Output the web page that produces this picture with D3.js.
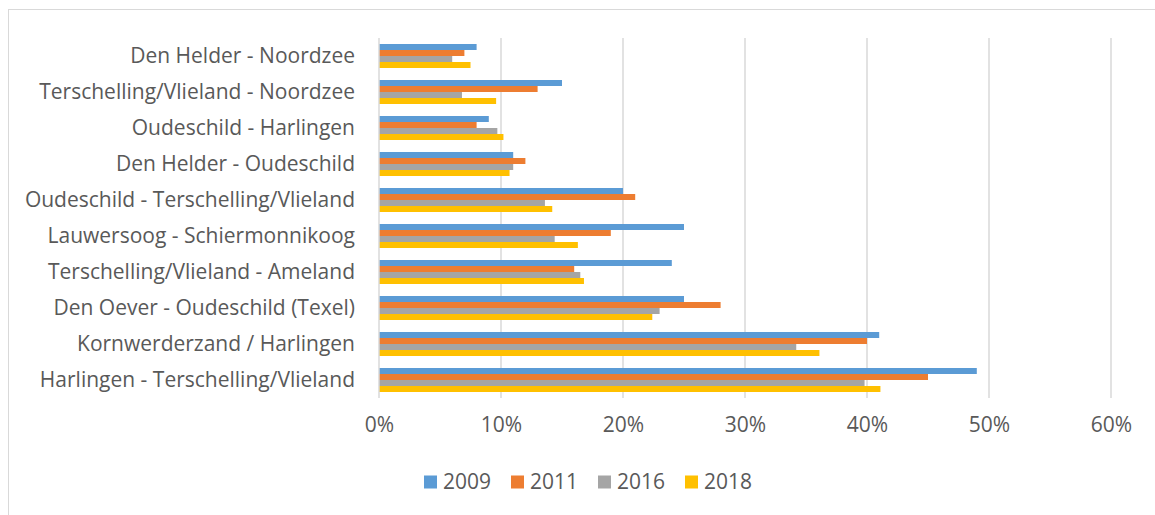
<!DOCTYPE html>
<html>
<head>
<meta charset="utf-8">
<script src="https://cdn.jsdelivr.net/npm/d3@7"></script>
<style>
  body { margin: 0; background: #fff; }
  text { font-family: "Open Sans", sans-serif; fill: #595959; }
</style>
</head>
<body>
<svg id="chart"></svg>
<script>
// routes, top to bottom as in the picture
const routes = [
  "Den Helder - Noordzee",
  "Terschelling/Vlieland - Noordzee",
  "Oudeschild - Harlingen",
  "Den Helder - Oudeschild",
  "Oudeschild - Terschelling/Vlieland",
  "Lauwersoog - Schiermonnikoog",
  "Terschelling/Vlieland - Ameland",
  "Den Oever - Oudeschild (Texel)",
  "Kornwerderzand / Harlingen",
  "Harlingen - Terschelling/Vlieland"
];
const years = ["2009", "2011", "2016", "2018"];
const colors = ["#5b9bd5", "#ed7d31", "#a5a5a5", "#ffc000"];

// shares per year, same order as routes
const v2009 = [0.080, 0.150, 0.090, 0.110, 0.200, 0.250, 0.240, 0.250, 0.410, 0.490];
const v2011 = [0.070, 0.130, 0.080, 0.120, 0.210, 0.190, 0.160, 0.280, 0.400, 0.450];
const v2016 = [0.060, 0.068, 0.097, 0.110, 0.136, 0.144, 0.165, 0.230, 0.342, 0.398];
const v2018 = [0.075, 0.096, 0.102, 0.107, 0.142, 0.163, 0.168, 0.224, 0.361, 0.411];
const xTicks = [0, 0.1, 0.2, 0.3, 0.4, 0.5, 0.6];

const series = [v2009, v2011, v2016, v2018];

const W = 1155, H = 515;
const svg = d3.select("#chart").attr("width", W).attr("height", H);

// chart area border (only left/top visible in the picture)
svg.append("rect")
  .attr("x", 8.5).attr("y", 9.5)
  .attr("width", W + 20).attr("height", H + 20)
  .attr("fill", "none").attr("stroke", "#d9d9d9");

const x = d3.scaleLinear().domain([0, 0.6]).range([379, 1111]);
const y = d3.scaleBand().domain(routes).range([38, 398])
  .paddingInner(1 / 3).paddingOuter(1 / 6);
const yInner = d3.scaleBand().domain(years).range([0, y.bandwidth()]);

// gridlines
svg.append("g").selectAll("line")
  .data(xTicks.slice(1))
  .join("line")
  .attr("x1", d => x(d)).attr("x2", d => x(d))
  .attr("y1", 38).attr("y2", 398)
  .attr("stroke", "#d9d9d9").attr("stroke-width", 1.5);

// bars
const rows = routes.map((r, i) => ({ route: r, vals: years.map((yr, j) => ({ year: yr, v: series[j][i], c: colors[j] })) }));
const grp = svg.append("g").selectAll("g")
  .data(rows)
  .join("g")
  .attr("transform", d => `translate(0,${y(d.route)})`);
grp.selectAll("rect")
  .data(d => d.vals)
  .join("rect")
  .attr("x", x(0))
  .attr("y", d => yInner(d.year))
  .attr("width", d => x(d.v) - x(0))
  .attr("height", yInner.bandwidth())
  .attr("fill", d => d.c);

// vertical axis line + labels
svg.append("line")
  .attr("x1", x(0)).attr("x2", x(0))
  .attr("y1", 38).attr("y2", 398)
  .attr("stroke", "#d9d9d9").attr("stroke-width", 1.5);

const yAxis = d3.axisLeft(y).tickSize(0).tickPadding(24);
svg.append("g")
  .attr("transform", `translate(${x(0)},0)`)
  .call(yAxis)
  .call(g => g.select(".domain").remove())
  .selectAll("text")
  .attr("font-size", 21)
  .attr("font-family", "Open Sans")
  .attr("fill", "#595959");

// x axis labels
const xAxis = d3.axisBottom(x).tickValues(xTicks).tickFormat(d3.format(".0%")).tickSize(0).tickPadding(19);
svg.append("g")
  .attr("transform", "translate(0,398)")
  .call(xAxis)
  .call(g => g.select(".domain").remove())
  .selectAll("text")
  .attr("font-size", 21)
  .attr("font-family", "Open Sans")
  .attr("fill", "#595959");

// legend
const legend = svg.append("g").attr("transform", "translate(424,482)");
const item = legend.selectAll("g")
  .data(years)
  .join("g")
  .attr("transform", (d, i) => `translate(${i * 87},0)`);
item.append("rect")
  .attr("x", 0).attr("y", -6.5)
  .attr("width", 13).attr("height", 13)
  .attr("fill", (d, i) => colors[i]);
item.append("text")
  .attr("x", 19).attr("y", 0)
  .attr("dy", "0.35em")
  .attr("font-size", 21)
  .text(d => d);
</script>
</body>
</html>
